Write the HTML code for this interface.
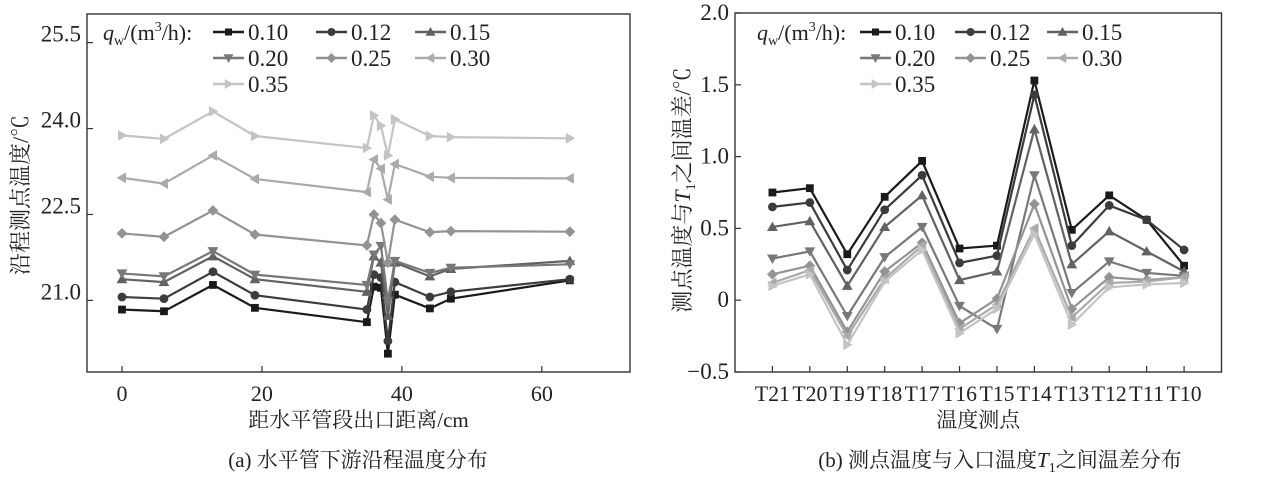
<!DOCTYPE html>
<html><head><meta charset="utf-8">
<style>
html,body{margin:0;padding:0;background:#fff;}
svg{display:block;font-family:"Liberation Serif","Noto Serif CJK SC",serif;}
</style></head>
<body>
<svg id="fig" width="1280" height="478" viewBox="0 0 1280 478" xmlns="http://www.w3.org/2000/svg">
</svg>
<script>
const seriesLabels = ["0.10","0.12","0.15","0.20","0.25","0.30","0.35"];
const seriesColors = ["#1a1a1a","#3c3c3c","#626262","#787878","#939393","#aaaaaa","#c4c4c4"];
const seriesMarkers = ["square","circle","up","down","diamond","left","right"];

const leftX = [0,6,13,19,35,36,37,38,39,44,47,64];
const leftS010 = [20.84,20.81,21.27,20.87,20.62,21.24,21.22,20.07,21.10,20.86,21.03,21.35];
const leftS012 = [21.06,21.03,21.50,21.09,20.84,21.45,21.40,20.29,21.32,21.06,21.15,21.37];
const leftS015 = [21.37,21.32,21.77,21.37,21.15,21.77,21.66,20.73,21.66,21.42,21.55,21.69];
const leftS020 = [21.47,21.42,21.86,21.45,21.27,21.80,21.95,20.99,21.69,21.48,21.57,21.63];
const leftS025 = [22.17,22.11,22.57,22.15,21.96,22.50,22.35,21.66,22.41,22.19,22.21,22.20];
const leftS030 = [23.14,23.04,23.53,23.12,22.89,23.46,23.30,22.76,23.38,23.16,23.14,23.13];
const leftS035 = [23.88,23.82,24.30,23.87,23.66,24.23,24.05,23.53,24.16,23.87,23.85,23.83];
const leftXTicks = [0,20,40,60];
const leftYTicks = [21.0,22.5,24.0,25.5];

const rightCats = ["T21","T20","T19","T18","T17","T16","T15","T14","T13","T12","T11","T10"];
const rightS010 = [0.75,0.78,0.32,0.72,0.97,0.36,0.38,1.53,0.49,0.73,0.56,0.24];
const rightS012 = [0.65,0.68,0.21,0.63,0.87,0.26,0.31,1.43,0.38,0.66,0.56,0.35];
const rightS015 = [0.51,0.55,0.10,0.51,0.73,0.14,0.20,1.19,0.25,0.48,0.34,0.20];
const rightS020 = [0.29,0.34,-0.11,0.30,0.51,-0.04,-0.20,0.87,0.05,0.27,0.19,0.17];
const rightS025 = [0.18,0.24,-0.22,0.20,0.40,-0.16,0.01,0.67,-0.06,0.16,0.14,0.16];
const rightS030 = [0.12,0.21,-0.25,0.15,0.38,-0.20,-0.03,0.50,-0.12,0.12,0.13,0.16];
const rightS035 = [0.10,0.18,-0.31,0.13,0.35,-0.23,-0.06,0.46,-0.17,0.09,0.11,0.12];
const rightYTicks = [-0.5,0,0.5,1.0,1.5,2.0];
const rightYTickLabels = ["−0.5","0","0.5","1.0","1.5","2.0"];

const NS = "http://www.w3.org/2000/svg";
const svg = document.getElementById("fig");
function mk(tag, attrs, parent){
  const e = document.createElementNS(NS, tag);
  for (const k in attrs) e.setAttribute(k, attrs[k]);
  (parent||svg).appendChild(e);
  return e;
}
function marker(g, type, x, y, color, s){
  let e;
  if (type==="square") e = mk("rect",{x:x-s,y:y-s,width:2*s,height:2*s,fill:color},g);
  else if (type==="circle") e = mk("circle",{cx:x,cy:y,r:s+0.5,fill:color},g);
  else {
    let p;
    const t = s+1.5;
    if (type==="up") p=[[x,y-t],[x-t,y+t*0.75],[x+t,y+t*0.75]];
    if (type==="down") p=[[x,y+t],[x-t,y-t*0.75],[x+t,y-t*0.75]];
    if (type==="left") p=[[x-t,y],[x+t*0.75,y-t],[x+t*0.75,y+t]];
    if (type==="right") p=[[x+t,y],[x-t*0.75,y-t],[x-t*0.75,y+t]];
    if (type==="diamond") p=[[x,y-t],[x+t,y],[x,y+t],[x-t,y]];
    e = mk("polygon",{points:p.map(q=>q.join(",")).join(" "),fill:color},g);
  }
  
  
}
function text(str, x, y, attrs, parent){
  const t = mk("text", Object.assign({x:x,y:y,"font-size":20,fill:"#222"}, attrs||{}), parent);
  t.textContent = str;
  return t;
}

function legend(g, x0, y0, lineXs){
  const lg = mk("g",{},g);
  
  
  const t = mk("text",{x:x0,y:y0+8,"font-size":22,fill:"#222"},lg);
  t.innerHTML = '<tspan font-style="italic">q</tspan><tspan font-size="14" dy="5">w</tspan><tspan dy="-5">/(m</tspan><tspan font-size="14" dy="-9">3</tspan><tspan dy="9">/h):</tspan>';
  
  
  for (let i=0;i<seriesLabels.length;i++){
    const col=i%3,row=Math.floor(i/3);
    const lx=lineXs[col], ly=y0+row*26;
    const eg = mk("g",{},lg);
    
    
    mk("line",{x1:lx,y1:ly,x2:lx+31,y2:ly,stroke:seriesColors[i],"stroke-width":2.4},eg);
    marker(eg, seriesMarkers[i], lx+15.5, ly, seriesColors[i], 3.5);
    text(seriesLabels[i], lx+35, ly+8, {"font-size":23}, eg);
  }
}

function drawPanel(cfg){
  const g = mk("g",{});
  
  
  const {L,R,T,B} = cfg;
  const sx = v => L + (v-cfg.xmin)/(cfg.xmax-cfg.xmin)*(R-L);
  const sy = v => B - (v-cfg.ymin)/(cfg.ymax-cfg.ymin)*(B-T);
  const frame = mk("rect",{x:L,y:T,width:R-L,height:B-T,fill:"none",stroke:"#333","stroke-width":1.4},g);
  
  
  cfg.yTicks.forEach((v,i)=>{
    const y=sy(v);
    mk("line",{x1:L,y1:y,x2:L+6,y2:y,stroke:"#333","stroke-width":1.2},g);
    const t=text(cfg.yLabels[i], L-6, y+cfg.yLabelDy, {"text-anchor":"end","font-size":23}, g);
    
    
  });
  cfg.xTicks.forEach((v,i)=>{
    const x=sx(v);
    mk("line",{x1:x,y1:B,x2:x,y2:B-6,stroke:"#333","stroke-width":1.2},g);
    const t=text(cfg.xLabels[i], x, B+29, {"text-anchor":"middle","font-size":22}, g);
    if(cfg.xLabelLen){ t.setAttribute("textLength", cfg.xLabelLen); t.setAttribute("lengthAdjust","spacingAndGlyphs"); }
    
    
  });
  cfg.series.forEach((vals,si)=>{
    const sg = mk("g",{},g);
    
    
    const pts = vals.map((v,i)=>[sx(cfg.xs[i]), sy(v)]);
    mk("polyline",{points:pts.map(p=>p.join(",")).join(" "),fill:"none",stroke:seriesColors[si],"stroke-width":2.2},sg);
    pts.forEach(p=>marker(sg, seriesMarkers[si], p[0], p[1], seriesColors[si], 3.9));
  });
  legend(g, cfg.legX, cfg.legY, cfg.legLines);
  const xt = text(cfg.xTitle, (L+R)/2, 427, {"text-anchor":"middle","font-size":21}, g);
  
  
  return g;
}

drawPanel({name:"chart-a",L:87,R:630,T:14,B:372,xmin:-5,xmax:72.6,ymin:19.75,ymax:26.0,
  xs:leftX, series:[leftS010,leftS012,leftS015,leftS020,leftS025,leftS030,leftS035],
  xTicks:leftXTicks, xLabels:leftXTicks.map(String),
  yTicks:leftYTicks, yLabels:leftYTicks.map(v=>v.toFixed(1)), yLabelDy:-1,
  legX:103, legY:32, legLines:[213,316,415], xTitle:"距水平管段出口距离/cm"});

const idx = rightCats.map((c,i)=>i);
drawPanel({name:"chart-b",L:735,R:1221.5,T:13,B:372,xmin:-1,xmax:12,ymin:-0.5,ymax:2.0,
  xs:idx, series:[rightS010,rightS012,rightS015,rightS020,rightS025,rightS030,rightS035],
  xTicks:idx, xLabels:rightCats, xLabelLen:35,
  yTicks:rightYTicks, yLabels:rightYTickLabels, yLabelDy:7,
  legX:757, legY:32, legLines:[860,955,1047], xTitle:"温度测点"});

const ya = text("沿程测点温度/℃", 0, 0, {"text-anchor":"middle","font-size":22,transform:"translate(28,195) rotate(-90)"});


const yb = mk("text",{"text-anchor":"middle","font-size":22,fill:"#222",transform:"translate(690,190) rotate(-90)"});
yb.innerHTML = '测点温度与<tspan font-style="italic">T</tspan><tspan font-size="14" dy="5">1</tspan><tspan dy="-5">之间温差/℃</tspan>';



const ca = text("(a) 水平管下游沿程温度分布", 358, 467, {"text-anchor":"middle","font-size":21});


const cb = mk("text",{x:1000,y:467,"text-anchor":"middle","font-size":21,fill:"#222"});
cb.innerHTML = '(b) 测点温度与入口温度<tspan font-style="italic">T</tspan><tspan font-size="14" dy="5">1</tspan><tspan dy="-5">之间温差分布</tspan>';


</script>
</body></html>
